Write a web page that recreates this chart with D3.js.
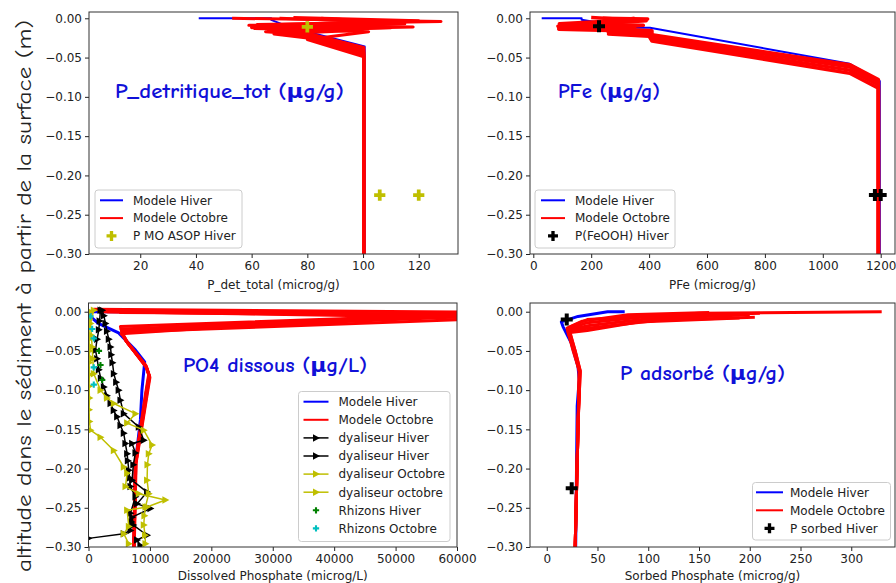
<!DOCTYPE html>
<html><head><meta charset="utf-8">
<script src="https://cdn.jsdelivr.net/npm/d3@7"></script>
<style>body{margin:0;background:#fff}svg{display:block}</style>
</head><body><svg id="c" width="896" height="583"></svg>
<script>
// ---------- data ----------
const depthTicks = [0, -0.05, -0.10, -0.15, -0.20, -0.25, -0.30];
const pdetTicks = [20, 40, 60, 80, 100, 120];
const pfeTicks = [0, 200, 400, 600, 800, 1000, 1200];
const po4Ticks = [0, 10000, 20000, 30000, 40000, 50000, 60000];
const psorbTicks = [0, 50, 100, 150, 200, 250, 300];

// P detritique [value, altitude]
const pdetHiver = [[41,0],[67,0],[67,-0.002],[72,-0.009],[82,-0.019],[100.6,-0.036],[100.6,-0.30]];
const pdetOctobre = [
  [[53,0],[128,-0.004],[62,-0.008],[118,-0.011],[66,-0.015],[80,-0.019],[100.3,-0.037],[100.3,-0.30]],
  [[75,0.001],[120,-0.003],[59,-0.009],[110,-0.012],[65,-0.017],[80,-0.021],[100.3,-0.040],[100.3,-0.30]],
  [[70,0],[110,-0.005],[60,-0.011],[100,-0.014],[70,-0.018],[80,-0.023],[100.3,-0.043],[100.3,-0.30]],
  [[85,0],[105,-0.006],[61,-0.013],[95,-0.016],[68,-0.020],[80,-0.025],[100.3,-0.046],[100.3,-0.30]],
  [[90,-0.001],[115,-0.007],[60,-0.012],[102,-0.017],[80,-0.027],[100.3,-0.049],[100.3,-0.30]]
];
const pdetObsHiver = [[80,-0.011],[106,-0.225],[120,-0.225]];

// PFe
const pfeHiver = [[29,0],[167,0],[167,-0.002],[300,-0.010],[305,-0.012],[403,-0.012],[1093,-0.058],[1197,-0.080],[1197,-0.30]];
const pfeOctobre = [
  [[240,0],[395,-0.001],[90,-0.007],[380,-0.009],[260,-0.013],[410,-0.016],[410,-0.021],[1093,-0.059],[1192,-0.078],[1192,-0.30]],
  [[200,0.001],[390,-0.003],[85,-0.010],[350,-0.012],[255,-0.016],[405,-0.019],[410,-0.024],[1093,-0.062],[1192,-0.081],[1192,-0.30]],
  [[300,-0.001],[380,-0.002],[88,-0.012],[330,-0.014],[260,-0.018],[400,-0.021],[410,-0.027],[1093,-0.066],[1192,-0.085],[1192,-0.30]],
  [[350,0],[88,-0.014],[300,-0.016],[260,-0.020],[400,-0.023],[410,-0.029],[1093,-0.070],[1192,-0.089],[1192,-0.30]]
];
const pfeObsHiver = [[227,-0.010],[1180,-0.225],[1200,-0.225]];

// PO4 dissous
const po4Hiver = [[5500,0],[650,0],[0,-0.004],[1600,-0.015],[4900,-0.027],[7650,-0.049],[9150,-0.064],[8700,-0.100],[8450,-0.138],[7640,-0.193],[7500,-0.25],[7400,-0.30]];
const po4Octobre = [
  [[800,0.003],[70000,-0.001],[5200,-0.019],[5500,-0.027],[6000,-0.036],[9300,-0.068],[9800,-0.080],[9300,-0.104],[7600,-0.193],[7350,-0.30]],
  [[1500,0.001],[65000,-0.004],[5300,-0.022],[5600,-0.029],[6100,-0.037],[9350,-0.069],[9850,-0.081],[9350,-0.105],[7650,-0.193],[7380,-0.30]],
  [[3000,0],[62000,-0.006],[5400,-0.024],[5700,-0.031],[6200,-0.038],[9400,-0.070],[9900,-0.082],[9400,-0.106],[7700,-0.193],[7400,-0.30]],
  [[2000,0],[68000,-0.008],[5500,-0.026],[5800,-0.032],[6300,-0.039],[9450,-0.071],[9950,-0.083],[9450,-0.107],[7700,-0.193],[7420,-0.30]],
  [[5000,-0.001],[55000,-0.003],[5300,-0.028],[5900,-0.033],[6400,-0.040],[9500,-0.072],[10000,-0.084],[9500,-0.108],[7750,-0.193],[7450,-0.30]]
];
const dyalHiver1 = [[2230,0.002],[2500,-0.005],[2760,-0.015],[3000,-0.025],[3300,-0.035],[3580,-0.045],[3700,-0.055],[3900,-0.065],[4120,-0.079],[4500,-0.09],[4900,-0.10],[5200,-0.113],[5740,-0.13],[8180,-0.147],[9000,-0.164],[7100,-0.168],[7640,-0.18],[7300,-0.195],[7100,-0.215],[9540,-0.23],[7910,-0.245],[10080,-0.251],[7100,-0.262],[7300,-0.272],[9540,-0.285],[7910,-0.291],[8450,-0.298]];
const dyalHiver2 = [[1950,0.002],[1800,-0.012],[1680,-0.023],[1400,-0.035],[1140,-0.049],[1400,-0.06],[1680,-0.074],[2000,-0.085],[2490,-0.096],[3000,-0.107],[3580,-0.117],[4100,-0.126],[4660,-0.134],[5200,-0.145],[5740,-0.155],[6000,-0.168],[6290,-0.181],[6400,-0.19],[6560,-0.202],[6700,-0.212],[6830,-0.223],[7640,-0.236],[6830,-0.257],[7000,-0.268],[6830,-0.279],[5740,-0.283],[0,-0.289]];
const dyalOct1 = [[860,0.002],[330,-0.015],[450,-0.03],[600,-0.045],[700,-0.06],[860,-0.079],[1950,-0.10],[3000,-0.11],[4120,-0.117],[7640,-0.13],[6290,-0.142],[9000,-0.151],[10360,-0.17],[9810,-0.181],[9600,-0.195],[9540,-0.215],[9810,-0.232],[9270,-0.249],[9100,-0.26],[9000,-0.272],[9200,-0.285],[9270,-0.296]];
const dyalOct2 = [[330,0],[150,-0.01],[100,-0.02],[100,-0.035],[150,-0.05],[100,-0.065],[150,-0.08],[100,-0.095],[150,-0.11],[100,-0.125],[150,-0.14],[330,-0.151],[1950,-0.16],[4120,-0.177],[5740,-0.198],[6290,-0.206],[6020,-0.223],[8180,-0.232],[12520,-0.24],[9540,-0.249],[6290,-0.253],[6560,-0.274],[5740,-0.283],[6560,-0.296]];
const rhizonsHiver = [[1700,-0.050],[1950,-0.068],[2230,-0.087]];
const rhizonsOctobre = [[330,-0.006],[600,-0.022],[860,-0.034],[860,-0.071],[860,-0.093]];

// P adsorbe
const psorbHiver = [[76.8,0],[60,0],[30.8,-0.006],[14.4,-0.013],[16,-0.019],[24.2,-0.04],[30.8,-0.07],[32,-0.087],[30,-0.12],[29.6,-0.168],[28.5,-0.30]];
const psorbOctobre = [
  [[330,0],[150,-0.002],[40,-0.010],[22,-0.020],[21,-0.024],[27,-0.05],[32.5,-0.075],[31,-0.138],[28,-0.30]],
  [[210,-0.002],[100,-0.006],[40,-0.014],[22,-0.022],[28,-0.05],[33,-0.075],[31,-0.138],[28,-0.30]],
  [[200,-0.004],[100,-0.009],[40,-0.018],[22,-0.024],[28,-0.05],[33,-0.076],[31,-0.138],[28,-0.30]],
  [[205,-0.007],[110,-0.011],[40,-0.021],[21,-0.025],[27.5,-0.05],[32.5,-0.077],[31,-0.138],[28,-0.30]],
  [[190,-0.008],[90,-0.013],[40,-0.024],[21,-0.027],[27,-0.05],[32,-0.076],[31,-0.138],[28,-0.30]],
  [[160,-0.001],[80,-0.004],[35,-0.012],[20,-0.021],[26,-0.05],[32,-0.075],[31,-0.138],[28,-0.30]]
];
const psorbObsHiver = [[19.7,-0.010],[24.6,-0.225]];

// ---------- drawing ----------
const svg = d3.select('#c');
const TICKFONT = "'DejaVu Sans', sans-serif";
const COMIC = "'Comic Sans MS','Comic Neue','DejaVu Sans',sans-serif";
const C = {blue:'#0000ff', red:'#ff0000', olive:'#bfbf00', black:'#000000', green:'#008000', cyan:'#00bfbf'};
const fmtDepth = v => { const s = Math.abs(v).toFixed(2); return v < -1e-9 ? '\u2212' + s : s; };

function styleAxis(g){
  g.select('.domain').remove();
  g.selectAll('.tick line').attr('stroke','#222').attr('stroke-width',1);
  g.selectAll('.tick text').attr('fill','#222').style('font-family',TICKFONT).style('font-size','12px');
}

function makePanel(o){
  const x = d3.scaleLinear().domain(o.xDomain).range([o.left, o.right]);
  const y = d3.scaleLinear().domain(o.yDomain).range([o.bottom, o.top]);
  svg.append('clipPath').attr('id','clip'+o.id).append('rect')
    .attr('x',o.left).attr('y',o.top).attr('width',o.right-o.left).attr('height',o.bottom-o.top);
  svg.append('g').attr('transform',`translate(0,${o.bottom})`)
    .call(d3.axisBottom(x).tickValues(o.xTicks).tickSize(4).tickPadding(3).tickFormat(d3.format('d'))).call(styleAxis);
  svg.append('g').attr('transform',`translate(${o.left},0)`)
    .call(d3.axisLeft(y).tickValues(depthTicks).tickSize(4).tickPadding(3).tickFormat(fmtDepth)).call(styleAxis);
  svg.append('text').attr('x',(o.left+o.right)/2).attr('y',o.xlabelY).attr('text-anchor','middle')
    .style('font-family',TICKFONT).style('font-size','12px').attr('fill','#222').text(o.xlabel);
  const plot = svg.append('g').attr('clip-path',`url(#clip${o.id})`);
  return {x, y, plot, o};
}
function frame(p){
  const o = p.o;
  svg.append('rect').attr('x',o.left).attr('y',o.top).attr('width',o.right-o.left).attr('height',o.bottom-o.top)
    .attr('fill','none').attr('stroke','#333').attr('stroke-width',1);
}
function drawLine(p, data, color, w){
  const line = d3.line().x(d=>p.x(d[0])).y(d=>p.y(d[1]));
  p.plot.append('path').datum(data).attr('d',line).attr('fill','none')
    .attr('stroke',color).attr('stroke-width',w).attr('stroke-linejoin','round');
}
const triPath = s => `M${-s*0.6},${-s*0.75}L${s*0.8},0L${-s*0.6},${s*0.75}Z`;
function drawTri(p, data, color, s){
  p.plot.selectAll(null).data(data).enter().append('path')
    .attr('transform',d=>`translate(${p.x(d[0])},${p.y(d[1])})`).attr('d',triPath(s)).attr('fill',color);
}
function drawPlus(p, data, color, size){
  p.plot.selectAll(null).data(data).enter().append('path')
    .attr('transform',d=>`translate(${p.x(d[0])},${p.y(d[1])})`)
    .attr('d',d3.symbol(d3.symbolCross,size)).attr('fill',color);
}
function title(txt, x, y, len){
  svg.append('text').attr('x',x).attr('y',y).attr('fill','#1010d8')
    .style('font-family',COMIC).style('font-size','20px').style('font-weight','bold')
    .attr('textLength',len).attr('lengthAdjust','spacingAndGlyphs').text(txt);
}
function legend(bx, by, bw, bh, lx0, lx1, tx, rows, items){
  svg.append('rect').attr('x',bx).attr('y',by).attr('width',bw).attr('height',bh).attr('rx',3)
    .attr('fill','#fff').attr('fill-opacity',0.85).attr('stroke','#cccccc');
  items.forEach((it,i)=>{
    const yy = rows[0] + i*rows[1];
    const g = svg.append('g');
    if (it.line) g.append('line').attr('x1',lx0).attr('x2',lx1).attr('y1',yy).attr('y2',yy)
      .attr('stroke',it.color).attr('stroke-width',it.lw||2);
    if (it.tri) g.append('path').attr('transform',`translate(${(lx0+lx1)/2},${yy})`).attr('d',triPath(it.tri)).attr('fill',it.color);
    if (it.plus) g.append('path').attr('transform',`translate(${(lx0+lx1)/2},${yy})`)
      .attr('d',d3.symbol(d3.symbolCross,it.plus)).attr('fill',it.color);
    g.append('text').attr('x',tx).attr('y',yy+4.3).style('font-family',TICKFONT).style('font-size','12px')
      .attr('fill','#222').text(it.label);
  });
}

// Panel 1: P detritique
const p1 = makePanel({id:1,left:89,right:458,top:12,bottom:254,xDomain:[1.6,134.1],yDomain:[-0.30,0.008],
  xTicks:pdetTicks,xlabel:'P_det_total (microg/g)',xlabelY:289});
drawLine(p1, pdetHiver, C.blue, 2);
pdetOctobre.forEach(d=>drawLine(p1, d, C.red, 3));
drawPlus(p1, pdetObsHiver, C.olive, 70);
frame(p1);
title('P_detritique_tot (\u03bcg/g)', 115, 98, 229);
legend(95,190,147,58,100,123,133,[200.3,17.8],[
  {label:'Modele Hiver',color:C.blue,line:true},
  {label:'Modele Octobre',color:C.red,line:true},
  {label:'P MO ASOP Hiver',color:C.olive,plus:55}]);

// Panel 2: PFe
const p2 = makePanel({id:2,left:530,right:895,top:12,bottom:254,xDomain:[-11.4,1249.4],yDomain:[-0.30,0.008],
  xTicks:pfeTicks,xlabel:'PFe (microg/g)',xlabelY:289});
drawLine(p2, pfeHiver, C.blue, 2);
pfeOctobre.forEach(d=>drawLine(p2, d, C.red, 3.5));
drawPlus(p2, pfeObsHiver, C.black, 80);
frame(p2);
title('PFe (\u03bcg/g)', 558, 98, 102);
legend(535,190,140,58,541,565,575,[200.3,17.8],[
  {label:'Modele Hiver',color:C.blue,line:true},
  {label:'Modele Octobre',color:C.red,line:true},
  {label:'P(FeOOH) Hiver',color:C.black,plus:55}]);

// Panel 3: PO4
const p3 = makePanel({id:3,left:88.5,right:457,top:303,bottom:547,xDomain:[0,60000],yDomain:[-0.30,0.0111],
  xTicks:po4Ticks,xlabel:'Dissolved Phosphate (microg/L)',xlabelY:580});
drawLine(p3, po4Hiver, C.blue, 3);
po4Octobre.forEach(d=>drawLine(p3, d, C.red, 3));
drawLine(p3, dyalHiver1, C.black, 1.5); drawTri(p3, dyalHiver1, C.black, 5);
drawLine(p3, dyalHiver2, C.black, 1.5); drawTri(p3, dyalHiver2, C.black, 5);
drawLine(p3, dyalOct1, C.olive, 1.5); drawTri(p3, dyalOct1, C.olive, 5);
drawLine(p3, dyalOct2, C.olive, 1.5); drawTri(p3, dyalOct2, C.olive, 5);
drawPlus(p3, rhizonsHiver, C.green, 22);
drawPlus(p3, rhizonsOctobre, C.cyan, 22);
frame(p3);
title('PO4 dissous (\u03bcg/L)', 183, 371.5, 184);
legend(298.5,391.5,151.5,150,303.5,328.5,338.5,[401.7,18.1],[
  {label:'Modele Hiver',color:C.blue,line:true},
  {label:'Modele Octobre',color:C.red,line:true},
  {label:'dyaliseur Hiver',color:C.black,line:true,lw:1.5,tri:5},
  {label:'dyaliseur Hiver',color:C.black,line:true,lw:1.5,tri:5},
  {label:'dyaliseur Octobre',color:C.olive,line:true,lw:1.5,tri:5},
  {label:'dyaliseur octobre',color:C.olive,line:true,lw:1.5,tri:5},
  {label:'Rhizons Hiver',color:C.green,plus:22},
  {label:'Rhizons Octobre',color:C.cyan,plus:22}]);

// Panel 4: P adsorbe
const p4 = makePanel({id:4,left:530,right:895,top:303,bottom:547,xDomain:[-16.5,343.1],yDomain:[-0.30,0.0111],
  xTicks:psorbTicks,xlabel:'Sorbed Phosphate (microg/g)',xlabelY:580});
drawLine(p4, psorbHiver, C.blue, 3);
psorbOctobre.forEach(d=>drawLine(p4, d, C.red, 3));
drawPlus(p4, psorbObsHiver, C.black, 80);
frame(p4);
title('P adsorb\u00e9 (\u03bcg/g)', 620, 380, 165);
legend(752.5,482.5,138,57.5,756,783,790,[492.3,18],[
  {label:'Modele Hiver',color:C.blue,line:true},
  {label:'Modele Octobre',color:C.red,line:true},
  {label:'P sorbed Hiver',color:C.black,plus:55}]);

// shared y label
svg.append('text').attr('transform','translate(31,296) rotate(-90)').attr('text-anchor','middle')
  .attr('fill','#222').style('font-family',COMIC).style('font-size','20px')
  .attr('textLength',552).attr('lengthAdjust','spacingAndGlyphs')
  .text('altitude dans le s\u00e9diment \u00e0 partir de la surface (m)');
</script></body></html>
